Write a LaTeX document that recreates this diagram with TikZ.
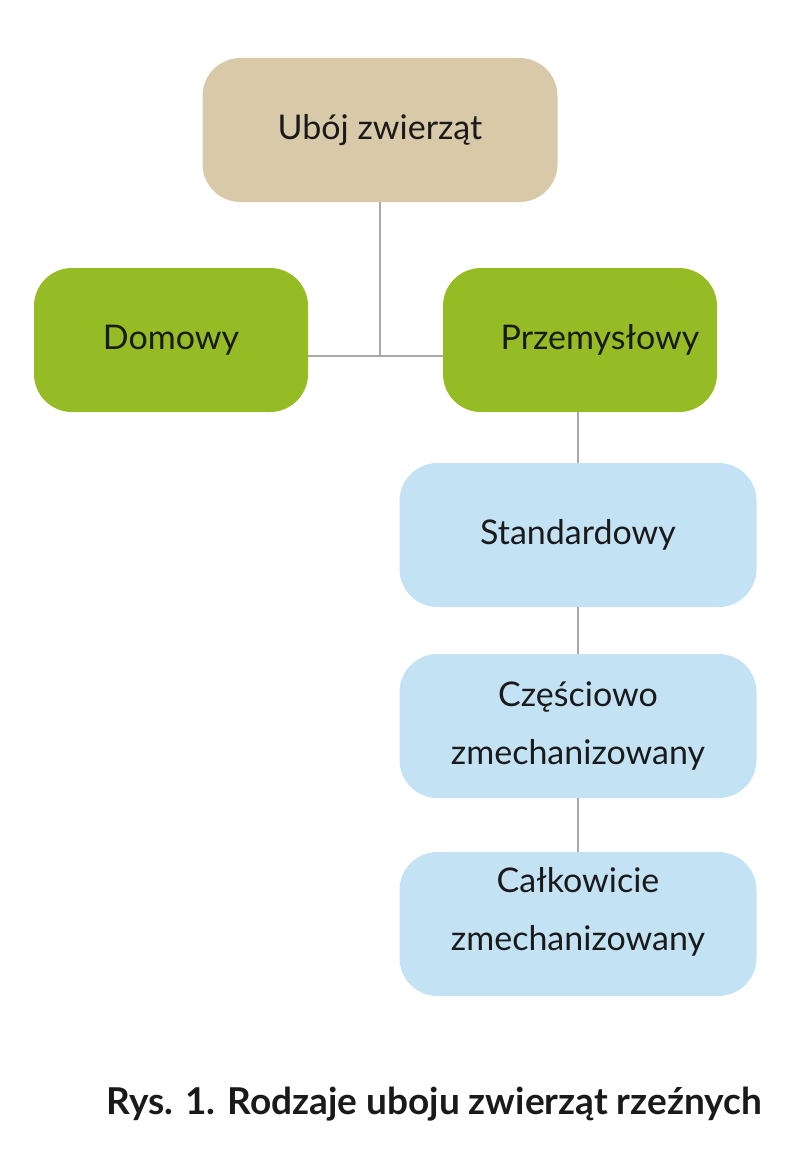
\documentclass[tikz,border=0pt]{standalone}
\usepackage{fontspec}
\setmainfont{Lato}
\usepackage{tikz}
\definecolor{boxtan}{HTML}{D8C9A8}
\definecolor{boxgreen}{HTML}{95BC24}
\definecolor{boxblue}{HTML}{C3E3F5}
\definecolor{linkgray}{HTML}{A9A9A9}
\definecolor{inkblack}{HTML}{1A1A1A}

\begin{document}
\begin{tikzpicture}[x=1pt,y=-1pt,
  box/.style={rectangle,rounded corners=38pt,inner sep=0pt,minimum height=144pt,
    text=inkblack,font=\fontsize{34}{58}\selectfont,align=center},
  link/.style={draw=linkgray,line width=2pt}]
  \useasboundingbox (0,0) rectangle (800,1172);
  % boxes
  \node[box,fill=boxtan,minimum width=355pt] (uboj) at (380,130) {Ubój zwierząt};
  \node[box,fill=boxgreen,minimum width=274pt] (dom) at (171,340) {Domowy};
  \node[box,fill=boxgreen,minimum width=274pt,
    label={[box,minimum height=0pt,xshift=20pt]center:Przemysłowy}] (prz) at (580,340) {};
  \node[box,fill=boxblue,minimum width=357pt] (std) at (578,535) {Standardowy};
  \node[box,fill=boxblue,minimum width=357pt] (czes) at (578,726) {Częściowo\\zmechanizowany};
  \node[box,fill=boxblue,minimum width=357pt,
    label={[box,minimum height=0pt,yshift=12pt]center:Całkowicie\\zmechanizowany}] (calk) at (578,924) {};
  % connectors
  \coordinate (j) at (380,356);
  \draw[link] (uboj.south) -- (j);
  \draw[link] (dom.east |- j) -- (prz.west |- j);
  \draw[link] (std.north |- prz.south) -- (std.north);
  \draw[link] (std.south) -- (czes.north);
  \draw[link] (czes.south) -- (calk.north);
  % caption
  \node[text=inkblack,font=\bfseries\fontsize{37}{44}\selectfont] (cap) at (434,1104)
    {Rys. 1. Rodzaje uboju zwierząt rzeźnych};
\end{tikzpicture}
\end{document}
